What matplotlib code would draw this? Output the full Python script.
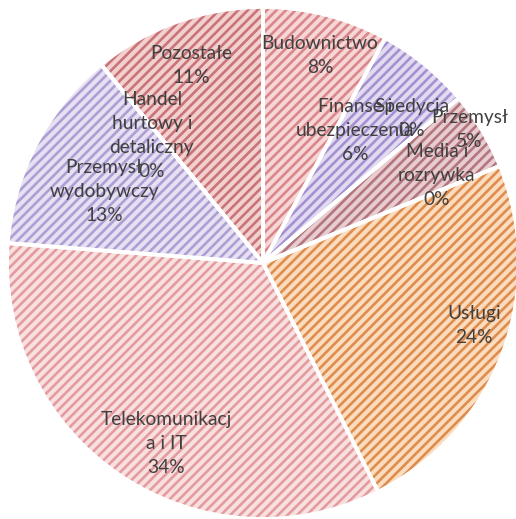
import numpy as np
import matplotlib.pyplot as plt

# sector shares (%), clockwise from 12 o'clock
sectors = ['Budownictwo', 'Finanse i\nubezpieczenia', 'Spedycja', 'Przemysł',
           'Media i\nrozrywka', 'Usługi', 'Telekomunikacj\na i IT',
           'Przemysł\nwydobywczy', 'Handel\nhurtowy i\ndetaliczny', 'Pozostałe']
shares = [8, 6, 0, 5, 0, 24, 34, 13, 0, 11]

fills = ['#f6d6d6', '#e2daf1', '#e2daf1', '#e8cdd0', '#e8cdd0',
         '#fcdcbe', '#f9e0e0', '#e6e0f2', '#f2d0d0', '#f2d0d0']
stripes = ['#d9878a', '#a591d0', '#a591d0', '#b3767e', '#b3767e',
           '#dd8d4e', '#e39b9e', '#ad9fd4', '#c97477', '#c97477']

# where each label sits: fraction of radius, angle shift from wedge middle
lab_r = [0.84, 0.63, 0.81, 0.96, 0.76, 0.86, 0.80, 0.68, 0.66, 0.82]
lab_da = [-1.1, 4.3, 4.1, 1.7, 4.5, 4.1, 5.6, 3.5, 1.9, 0.4]

plt.rcParams['hatch.linewidth'] = 2.2

fig = plt.figure(figsize=(6.0, 519 / 86), dpi=86)
ax = fig.add_axes([0, 0, 1, 1])

kw = dict(startangle=90, counterclock=False, radius=1.0)
wedges, _ = ax.pie(shares, colors=fills, wedgeprops=dict(linewidth=0), **kw)
hatched, _ = ax.pie(shares, colors=['none'] * len(shares),
                    wedgeprops=dict(linewidth=0), **kw)
for w, c in zip(hatched, stripes):
    w.set_hatch('///')
    w.set_edgecolor(c)
    w.set_linewidth(0)
ax.pie(shares, colors=['none'] * len(shares),
       wedgeprops=dict(linewidth=3.2, edgecolor='white'), **kw)

for w, name, s, r, da in zip(wedges, sectors, shares, lab_r, lab_da):
    mid = np.deg2rad((w.theta1 + w.theta2) / 2 + da)
    ax.text(r * np.cos(mid), r * np.sin(mid), f'{name}\n{s}%',
            ha='center', va='center', multialignment='center',
            fontsize=16, family='Lato', color='#404040', linespacing=1.5)

ax.set_aspect('auto')
ax.set_xlim(-263 / 256, (516 - 263) / 256)
ax.set_ylim(-256 / 256, 263 / 256)
ax.axis('off')

fig.savefig('out.png', dpi=86)
